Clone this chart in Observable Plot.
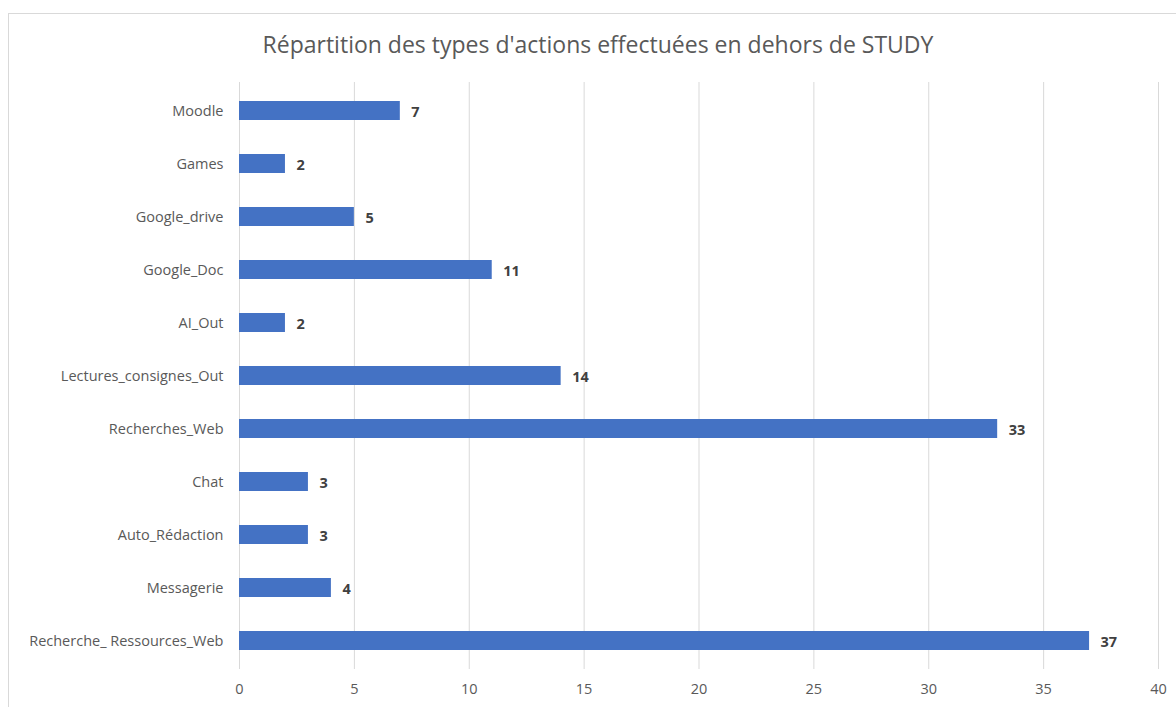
<!DOCTYPE html>
<html>
<head>
<meta charset="utf-8">
<script src="https://cdn.jsdelivr.net/npm/d3@7"></script>
<script src="https://cdn.jsdelivr.net/npm/@observablehq/plot@0.6"></script>
<style>
  html, body { margin: 0; padding: 0; background: #fff; }
  body { width: 1176px; height: 707px; position: relative; overflow: hidden; font-family: "Open Sans", sans-serif; }
  .frame { position: absolute; left: 8px; top: 13px; width: 1200px; height: 720px; border: 1px solid #d9d9d9; box-sizing: border-box; }
  .title { position: absolute; left: 0; width: 1196px; top: 28px; text-align: center; font-size: 23px; color: #595959; }
  #chart { position: absolute; left: 0; top: 0; }
</style>
</head>
<body>
<div class="frame"></div>
<div class="title">Répartition des types d'actions effectuées en dehors de STUDY</div>
<div id="chart"></div>
<script>
const categories = ["Moodle", "Games", "Google_drive", "Google_Doc", "AI_Out", "Lectures_consignes_Out", "Recherches_Web", "Chat", "Auto_Rédaction", "Messagerie", "Recherche_ Ressources_Web"];
const values = [7, 2, 5, 11, 2, 14, 33, 3, 3, 4, 37];
const xTicks = [0, 5, 10, 15, 20, 25, 30, 35, 40];

const data = categories.map((c, i) => ({category: c, value: values[i]}));

const chart = Plot.plot({
  width: 1176,
  height: 707,
  marginLeft: 239,
  marginRight: 18,
  marginTop: 82,
  marginBottom: 38,
  style: {fontFamily: "'Open Sans', sans-serif", fontSize: "14.5px", color: "#595959", background: "transparent"},
  x: {domain: [0, 40], ticks: xTicks, label: null},
  y: {domain: categories, paddingInner: 0.65, paddingOuter: 0.325, label: null},
  marks: [
    Plot.gridX(xTicks, {stroke: "#d9d9d9", strokeOpacity: 1, strokeWidth: 1}),
    Plot.axisX({ticks: xTicks, tickSize: 0, tickPadding: 14, fontSize: 14.5, fill: "#595959", label: null}),
    Plot.axisY({tickSize: 0, tickPadding: 16, fontSize: 14.5, fill: "#595959", label: null}),
    Plot.barX(data, {x: "value", y: "category", fill: "#4472C4"}),
    Plot.text(data, {x: "value", y: "category", text: d => String(d.value), dx: 11, dy: 1, textAnchor: "start", fontWeight: "bold", fontSize: 14.5, fill: "#404040"})
  ]
});
document.getElementById("chart").appendChild(chart);
</script>
</body>
</html>
